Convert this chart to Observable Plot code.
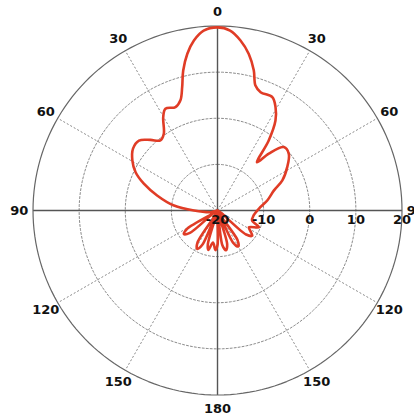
<!DOCTYPE html>
<html><head><meta charset="utf-8">
<script src="https://cdn.jsdelivr.net/npm/d3@7"></script>
<script src="https://cdn.jsdelivr.net/npm/@observablehq/plot@0.6"></script>
<style>
html,body{margin:0;padding:0;background:#fff;}
#chart svg{display:block;}
</style>
</head><body><div id="chart"></div>
<script>
// Radiation pattern: azimuth (deg, clockwise from top) and gain (dB)
const angles = [0, 4, 7.7, 11.3, 14.5, 16.9, 20, 25.8, 29.3, 32.8, 36.2, 39.4, 42.1, 46.3, 51.5, 58.1, 65.1, 70.4, 78.6, 85.6,
  97.8, 106, 112, 118, 122, 126, 130, 138,
  146, 150, 154, 160,
  164, 168, 172, 176,
  180, 183, 188, 193, 196, 200,
  204, 208, 212, 221,
  231, 235, 239, 250,
  256, 270, 276.5, 284, 290, 295, 300.4, 306.2, 311.7, 316.5, 320.8, 325, 329.8, 332.9, 337.9, 341.4,
  344, 346.2, 349.1, 352.1, 355.6];
const gains = [19.7, 19.1, 17.2, 14.6, 11.4, 8.3, 7.3, 7.3, 5.7, 3.2, -1.2, -6.5, -3.4, -0.1, -0.25, -2.2, -4.5, -7.0, -9.0, -10.7,
  -12.1, -12.2, -10.3, -12.3, -11.6, -10.7, -11.9, -20,
  -12.2, -11.0, -12.2, -20,
  -12.4, -11.2, -12.4, -20,
  -12.5, -11.4, -13, -11.2, -12.4, -20,
  -11.8, -10.6, -11.8, -20,
  -12.3, -11.1, -12.3, -20,
  -18.5, -14.9, -10.5, -6.5, -3.0, -0.4, 1.4, 2.7, 2.8, 1.1, -0.4, 0.3, 3.4, 4.8, 4.2, 5.2,
  7.8, 11.2, 14.6, 17.2, 19.1];

const ringTicks = [-20, -10, 0, 10, 20];
const angleTicks = [0, 30, 60, 90, 120, 150, 180, 210, 240, 270, 300, 330];
const angleLabels = ["0", "30", "60", "90", "120", "150", "180", "150", "120", "90", "60", "30"];
const rMin = -20, rMax = 20;

const rad = a => a * Math.PI / 180;
const rr = v => Math.max(0, v - rMin);
const R = rMax - rMin;
const px = (a, v) => rr(v) * Math.sin(rad(a));
const py = (a, v) => rr(v) * Math.cos(rad(a));

const pattern = angles.map((a, i) => ({a, v: gains[i]}));

// grid circles
const innerRings = ringTicks.filter(t => t > rMin && t < rMax);
const ringPts = [];
for (const t of innerRings) for (let a = 0; a <= 360; a += 2) ringPts.push({t, a});
const outerPts = [];
for (let a = 0; a <= 360; a += 2) outerPts.push({a});

const dottedSpokes = angleTicks.filter(a => a % 90 !== 0);
const axes = [0, 90];
const labelR = R * 1.075;

const chart = Plot.plot({
  width: 414,
  height: 416,
  margin: 0,
  x: {domain: [-47.05, 42.71], axis: null},
  y: {domain: [-44.66, 45.53], axis: null},
  style: {fontFamily: "DejaVu Sans, Verdana, sans-serif", background: "#fff"},
  marks: [
    Plot.line(ringPts, {x: d => px(d.a, d.t), y: d => py(d.a, d.t), z: "t", stroke: "#8a8a8a", strokeWidth: 1, strokeDasharray: "2,2"}),
    Plot.link(dottedSpokes, {x1: 0, y1: 0, x2: a => px(a, rMax), y2: a => py(a, rMax), stroke: "#8a8a8a", strokeWidth: 1, strokeDasharray: "2,2"}),
    Plot.link(axes, {x1: a => -px(a, rMax), y1: a => -py(a, rMax), x2: a => px(a, rMax), y2: a => py(a, rMax), stroke: "#555", strokeWidth: 1.4}),
    Plot.line(outerPts, {x: d => px(d.a, rMax), y: d => py(d.a, rMax), stroke: "#666", strokeWidth: 1.2}),
    Plot.line(pattern, {x: d => px(d.a, d.v), y: d => py(d.a, d.v), curve: "catmull-rom-closed", stroke: "#e03c26", strokeWidth: 2.6}),
    Plot.text(angleTicks, {x: a => labelR * Math.sin(rad(a)), y: a => labelR * Math.cos(rad(a)), text: (a, i) => angleLabels[i],
      fontSize: 13, fontWeight: "bold", fill: "#111", textAnchor: "middle", lineAnchor: "middle"}),
    Plot.text(ringTicks, {x: t => rr(t), y: 0, dy: 9, text: t => String(t), fontSize: 13, fontWeight: "bold", fill: "#111",
      textAnchor: "middle", lineAnchor: "middle"})
  ]
});
document.getElementById("chart").append(chart);
</script>
</body></html>
